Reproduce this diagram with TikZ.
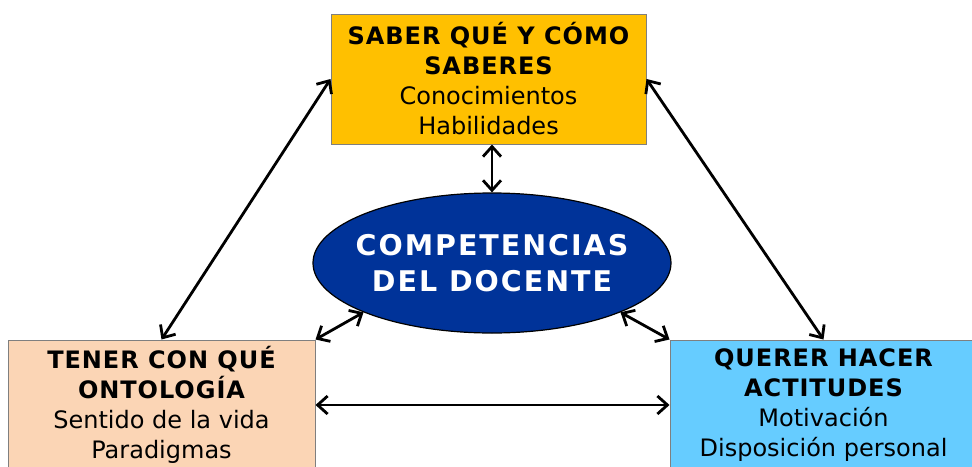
\documentclass[tikz,border=0pt]{standalone}
\usepackage{fontspec}
\setmainfont{DejaVu Sans}
\newfontfamily\wideboldfont[LetterSpace=4]{DejaVu Sans Bold}
\newfontfamily\ellfont[LetterSpace=7]{DejaVu Sans Bold}
\usetikzlibrary{shapes.geometric,arrows.meta}
\definecolor{cgold}{HTML}{FFC000}
\definecolor{cpeach}{HTML}{FBD5B5}
\definecolor{csky}{HTML}{66CCFF}
\definecolor{cnavy}{HTML}{003399}
\definecolor{cedge}{HTML}{7F7F7F}
\newcommand{\hd}[1]{{\wideboldfont #1}}
\tikzset{
  box/.style={draw=cedge, line width=1pt, rectangle, minimum height=130pt, inner sep=0pt,
    align=center, font=\fontsize{24}{30}\selectfont},
  barb/.tip={Straight Barb[length=10pt,width=18pt,line width=2.8pt]},
  conn/.style={line width=2.8pt, barb-barb}
}
\begin{document}
\begin{tikzpicture}[x=1pt,y=-1pt]
\useasboundingbox (0,0) rectangle (972,466);
\node[box, fill=cgold, minimum width=315pt] (tb) at (488.5,79) {\hd{SABER QUÉ Y CÓMO}\\\hd{SABERES}\\Conocimientos\\Habilidades};
\node[box, fill=cpeach, minimum width=307pt] (lb) at (161.5,405) {\hd{TENER CON QUÉ}\\\hd{ONTOLOGÍA}\\Sentido de la vida\\Paradigmas};
\node[box, fill=csky, minimum width=307pt] (rb) at (823.5,405) {\hd{QUERER HACER}\\\hd{ACTITUDES}\\Motivación\\Disposición personal};
\node[ellipse, draw=black, line width=1.2pt, fill=cnavy, minimum width=358pt, minimum height=140pt,
  inner xsep=-20pt, inner ysep=0pt,
  align=center, text=white, font=\fontsize{28.5}{36}\ellfont] (el) at (492,263) {COMPETENCIAS\\DEL DOCENTE};
\draw[conn] (tb.south -| el.north) -- (el.north);
\draw[conn] (tb.west) -- (lb.north);
\draw[conn] (tb.east) -- (rb.north);
\draw[conn] (el.201) -- (lb.north east);
\draw[conn] (el.339) -- (rb.north west);
\draw[conn] (lb.east) -- (rb.west);
\end{tikzpicture}
\end{document}
